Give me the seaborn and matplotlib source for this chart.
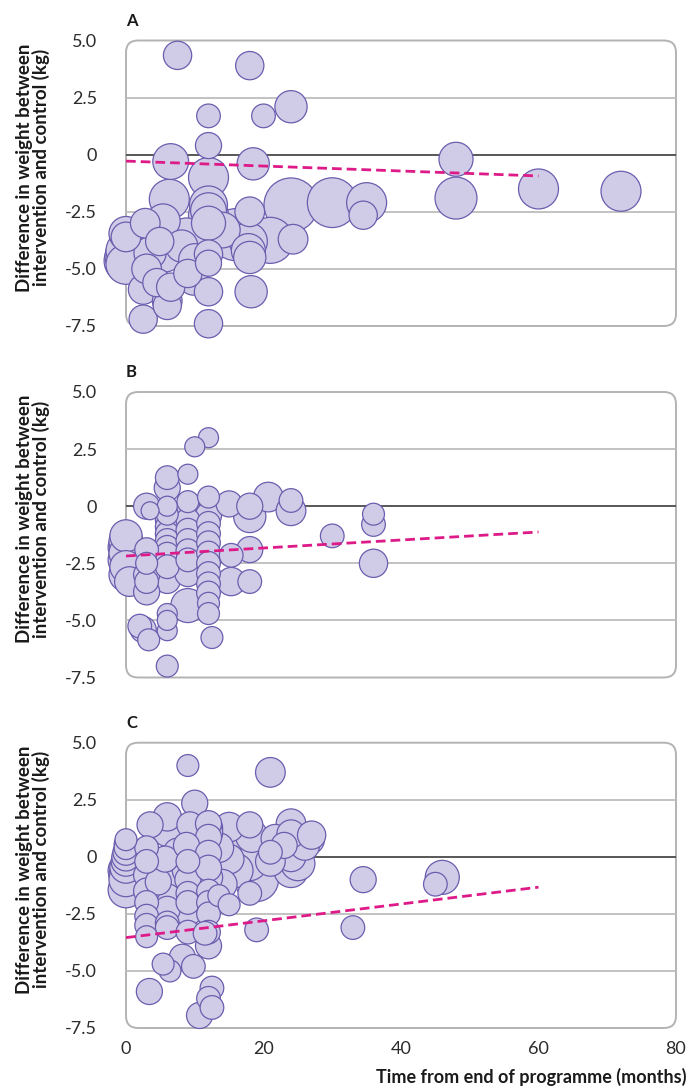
import numpy as np
import pandas as pd
import matplotlib
matplotlib.use("Agg")
import matplotlib.pyplot as plt
from matplotlib.patches import FancyBboxPatch
import seaborn as sns

# ---- data (months after programme end, weight difference in kg, study weight) ----
a_months = [7.5, 18, 24, 20, 12, 12, 6.5, 12, 18.5, 48, 48, 60, 72, 6.3, 24, 30, 35, 34.5,
            21, 24.3, 0, 0, 0, 0, 0, 0, 2.8, 5.4, 4.9, 5.7, 8.8, 8.1, 12, 12, 12, 12, 12,
            12, 12, 12, 16, 17.8, 17.8, 18, 18, 18.2, 2.5, 2.5, 6, 6, 9.8, 3, 4.5, 6.5, 9,
            14, 10, 3.5]
a_diff = [4.35, 3.9, 2.1, 1.7, 1.7, 0.4, -0.3, -1.0, -0.4, -0.2, -1.9, -1.5, -1.6, -1.95,
          -2.2, -2.1, -2.1, -2.65, -3.75, -3.7, -3.45, -3.6, -4.2, -4.45, -4.65, -4.8, -3.0,
          -2.9, -3.8, -4.35, -3.6, -4.0, -2.2, -2.45, -2.65, -3.0, -4.35, -4.75, -6.0, -7.4,
          -3.5, -3.8, -4.2, -4.5, -2.5, -6.0, -5.9, -7.2, -6.4, -6.6, -5.5, -5.0, -5.6, -5.8, -5.2,
          -3.3, -4.6, -4.3]
a_weight = [20, 20, 26, 14, 14, 17, 32, 40, 26, 29, 44, 40, 40, 40, 73, 62, 40, 20,
            53, 22, 29, 22, 40, 44, 48, 40, 22, 29, 20, 32, 36, 26, 36, 32, 40, 29, 20,
            17, 20, 20, 68, 36, 29, 26, 22, 26, 22, 20, 22, 20, 22, 22, 20, 20, 20,
            32, 26, 26]

b_months = [12, 10, 9, 6, 6, 3, 3.5, 6, 6, 6, 6, 6, 6, 6, 6, 6, 6, 6, 6,
            9, 9, 9, 9, 9, 9, 9, 9, 9, 12, 12, 12, 12, 12, 12, 12, 12, 12, 12, 12, 12, 12, 12.5,
            15, 18, 18, 20.7, 24, 24, 18, 15.3, 15.3, 18, 3, 3, 3, 3, 3,
            0, 0, 0, 0, 0, 0, 0, 0.5, 2.5, 3.3, 2, 6, 6, 6, 6, 30, 36, 36, 36]
b_diff = [3.0, 2.6, 1.4, 1.25, 0.8, 0.0, -0.2, 0.0, -0.35, -0.6, -0.9, -1.2, -1.5, -1.8,
          -2.1, -2.4, -2.65, -2.95, -3.25,
          0.2, -0.2, -0.6, -1.05, -1.5, -1.95, -2.35, -2.95, -4.35,
          0.4, -0.1, -0.4, -0.75, -1.2, -1.6, -2.05, -2.5, -2.95, -3.4, -3.8, -4.25, -4.7, -5.75,
          0.1, 0.0, -0.45, 0.4, 0.25, -0.2, -1.9, -2.15, -3.3, -3.3, -3.75, -2.5, -1.9, -3.0, -3.3,
          -1.3, -1.55, -1.8, -2.05, -2.35, -2.65, -3.0, -3.3, -5.4, -5.85, -5.25, -5.45, -4.7,
          -5.0, -7.0, -1.3, -0.35, -0.8, -2.5]
b_weight = [10, 10, 10, 14, 17, 17, 8, 10, 12, 14, 14, 14, 14, 14, 14, 17, 14, 17, 17,
            12, 17, 14, 14, 14, 14, 14, 17, 29, 12, 20, 17, 14, 14, 14, 14, 14, 14, 14, 14, 12, 12, 12,
            17, 17, 26, 22, 14, 22, 17, 14, 20, 14, 17, 12, 14, 17, 14,
            26, 29, 32, 29, 32, 26, 29, 22, 17, 12, 14, 10, 10, 10, 12, 14, 12, 14, 20]

c_months = [9, 21, 10, 34.5, 33, 45, 46, 19,
            3.5, 6, 6, 6, 6, 6, 9.3, 12, 12, 12, 12, 15, 18, 18.3, 21.7, 24, 24, 27, 26.7, 24.3, 23,
            0, 0, 0, 0, 0, 0, 0, 0, 0, 0, 0,
            3, 3, 3, 3, 3, 3, 3, 3, 4.7, 5.7, 6, 6, 6, 6, 6, 6,
            8.8, 8.8, 9, 9, 9, 9, 9, 9, 8.2, 12, 12, 12, 12, 12, 12, 12, 12,
            13.5, 15, 15, 18, 19, 18, 21, 24, 24,
            6.4, 5.4, 9.8, 3.4, 12.5, 12, 12.5, 10.7, 11.5,
            15, 18, 21, 22, 26, 25, 13.5, 10, 7.5, 4, 3, 16, 14]
c_diff = [4.0, 3.7, 2.35, -1.0, -3.1, -1.2, -0.9, -3.2,
          1.4, 1.75, 1.6, 1.45, 1.3, 1.1, 1.4, 1.45, 1.25, 1.05, 0.85, 1.3, 1.4, 0.9, 0.8, 1.45,
          1.0, 0.95, 0.75, 0.3, 0.5,
          0.75, 0.55, 0.4, 0.2, 0.0, -0.2, -0.45, -0.6, -0.8, -1.0, -1.45,
          0.4, -0.2, -0.8, -1.5, -2.0, -2.6, -3.0, -3.5, -1.1, -0.1, -0.5, -1.2, -1.8, -2.3, -2.9, -3.1,
          0.5, -0.6, -0.2, -1.0, -1.6, -2.0, -2.4, -3.3, -4.4, 0.15, -0.5, -0.9, -1.5, -2.0, -2.5,
          -3.3, -3.9,
          -1.7, -2.1, -0.1, -0.3, -1.0, -1.6, 0.2, -0.6, 0.0,
          -5.0, -4.7, -4.8, -5.9, -5.75, -6.2, -6.6, -6.95, -3.35,
          0.9, 0.5, -0.2, 0.6, 0.5, -0.3, 0.4, 0.8, 0.2, -0.5, 0.1, -0.6, -1.2]
c_weight = [12, 22, 17, 17, 14, 14, 29, 14,
            17, 20, 22, 22, 22, 22, 17, 17, 20, 20, 17, 22, 17, 26, 20, 22, 20, 20, 22, 29, 17,
            12, 14, 14, 17, 20, 22, 26, 32, 29, 29, 32,
            14, 14, 17, 17, 14, 14, 14, 12, 17, 17, 20, 20, 20, 17, 14, 14,
            17, 20, 14, 17, 14, 14, 20, 14, 17, 17, 17, 20, 14, 14, 14, 14, 17,
            12, 12, 22, 29, 48, 14, 14, 29, 22,
            12, 12, 14, 17, 14, 14, 14, 17, 14,
            29, 40, 22, 22, 22, 29, 22, 20, 20, 20, 20, 29, 22]

# fitted meta-regression lines (endpoints)
trend_months = [0, 60]
a_trend = [-0.28, -0.93]
b_trend = [-2.18, -1.13]
c_trend = [-3.54, -1.33]

y_ticks = [5.0, 2.5, 0, -2.5, -5.0, -7.5]
y_ticklabels = ["5.0", "2.5", "0", "-2.5", "-5.0", "-7.5"]
x_ticks = [0, 20, 40, 60, 80]
x_ticklabels = ["0", "20", "40", "60", "80"]
panel_names = ["A", "B", "C"]

# ---- style ----
sns.set_style("white")
plt.rcParams["font.family"] = ["Lato", "DejaVu Sans"]

FILL = "#d0cce7"
EDGE = "#6a5eae"
TREND = "#dd1a88"
GRID = "#bdbdbd"
BOX = "#b3b3b3"

W, H = 689, 1086
fig = plt.figure(figsize=(W / 100, H / 100), dpi=100)

left_px, right_px = 126, 676
panel_top_px = [40.5, 392, 742.7]
panel_bot_px = [326, 677.5, 1028]

panels = [
    (a_months, a_diff, a_weight, a_trend),
    (b_months, b_diff, b_weight, b_trend),
    (c_months, c_diff, c_weight, c_trend),
]

for i, (mx, dy, wt, tr) in enumerate(panels):
    top, bot = panel_top_px[i], panel_bot_px[i]
    ax = fig.add_axes([left_px / W, 1 - bot / H, (right_px - left_px) / W, (bot - top) / H])
    ax.set_xlim(0, 80)
    ax.set_ylim(-7.5, 5.0)
    for s in ax.spines.values():
        s.set_visible(False)
    ax.patch.set_alpha(0)

    # rounded frame
    asp = (right_px - left_px) / (bot - top)
    frame = FancyBboxPatch((0, 0), 1, 1, boxstyle="round,pad=0,rounding_size=0.022",
                           mutation_aspect=asp, transform=ax.transAxes,
                           facecolor="none", edgecolor=BOX, lw=1.4, zorder=0.5, clip_on=False)
    ax.add_patch(frame)
    for g in [2.5, -2.5, -5.0]:
        ax.axhline(g, color=GRID, lw=1.3, zorder=0.6)
    ax.axhline(0, color="#4a4a4a", lw=1.3, zorder=0.6)

    df = pd.DataFrame({"months": mx, "diff": dy, "weight": wt})
    df = df.sort_values("weight", ascending=False, kind="stable")
    sns.scatterplot(data=df, x="months", y="diff", size="weight", sizes=(166, 1512),
                    size_norm=(8, 73), color=FILL, edgecolor=EDGE, linewidth=0.9,
                    alpha=1, legend=False, ax=ax, clip_on=False, zorder=3)

    ax.plot(trend_months, tr, color=TREND, lw=2.0, ls=(0, (3.5, 1.8)), zorder=5,
            solid_capstyle="butt")

    ax.set_yticks(y_ticks)
    ax.set_yticklabels(y_ticklabels)
    ax.tick_params(axis="y", length=0, pad=21, labelsize=13, labelcolor="#2b2b2b")
    ax.set_xticks(x_ticks)
    ax.tick_params(axis="x", direction="in", length=6, width=1.2, color=BOX,
                   pad=9, labelsize=13, labelcolor="#2b2b2b")
    for t in (ax.xaxis.get_major_ticks()[0], ax.xaxis.get_major_ticks()[-1]):
        t.tick1line.set_visible(False)
    if i < 2:
        ax.set_xticklabels([])
    else:
        ax.set_xticklabels(x_ticklabels)
    ax.set_xlabel("")
    ax.set_ylabel("Difference in weight between\nintervention and control (kg)",
                  fontsize=13.5, fontweight="bold", linespacing=0.95, color="#1a1a1a")
    ax.yaxis.set_label_coords(-0.138, 0.555)

    fig.text(left_px / W, 1 - (top - 20) / H, panel_names[i], fontsize=12,
             fontweight="bold", ha="left", va="center", color="#1a1a1a")

fig.text(686 / W, 1 - 1077 / H, "Time from end of programme (months)", fontsize=13,
         fontweight="bold", ha="right", va="center", color="#1a1a1a")

fig.savefig("out.png", dpi=100)
